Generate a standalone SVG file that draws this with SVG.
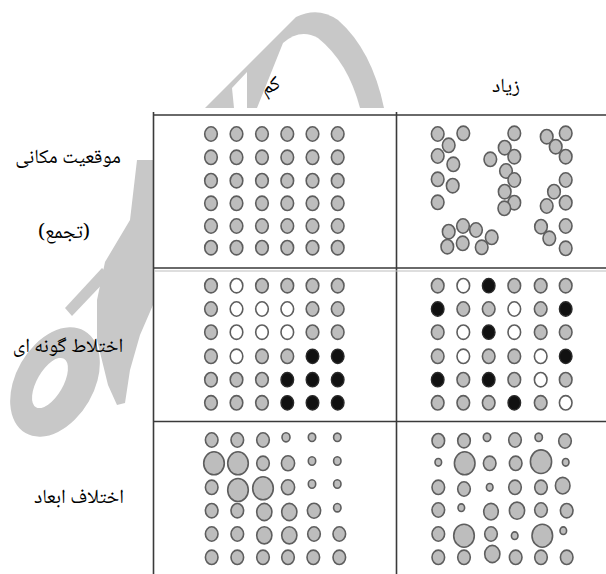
<svg xmlns="http://www.w3.org/2000/svg" width="606" height="574" viewBox="0 0 606 574">
<style>
.wm{fill:#c8c8c8;stroke:none}
.wh{fill:#fff;stroke:none}
.g{fill:#bdbdbd;stroke:#5e5e5e;stroke-width:1.6}
.w{fill:#fff;stroke:#5e5e5e;stroke-width:1.6}
.b{fill:#111;stroke:#2a2a2a;stroke-width:1.4}
.ln{stroke:#3a3a3a;stroke-width:1.6;fill:none}
.ln2{stroke:#bdbdbd;stroke-width:1;fill:none}
.t{font-family:"Noto Naskh Arabic","Noto Sans Arabic","DejaVu Sans",sans-serif;font-size:20px;fill:#000;text-anchor:middle}
</style>
<rect width="606" height="574" fill="#fff"/>
<g id="watermark">
<path class="wm" d="M205 108 L296 17 Q318 6 338 20 Q372 50 384 108 Z"/>
<path class="wh" d="M257 108 L283 43 Q300 28 318 38 Q348 62 360 108 Z"/>
<path class="wh" d="M234 108 L232 88 L247 72 L247 108 Z"/>
<ellipse class="wm" cx="55" cy="382" rx="39" ry="59" transform="rotate(30 55 382)"/>
<ellipse class="wh" cx="50" cy="383" rx="13" ry="28" transform="rotate(30 50 383)"/>
<path class="wm" d="M137 160 L130 220 L105 262 L97 300 L97 340 L108 385 L117 405 L125 403 L130 370 L140 335 L153 305 L153 160 Z"/>
<path class="wm" d="M65 308 L102 268 L110 276 L72 316 Z"/>
</g>
<g id="headers">
<text class="t" x="270" y="92" font-size="22" transform="rotate(-25 270 85)">کم</text>
<text class="t" x="506" y="92" font-size="22">زیاد</text>
</g>
<g id="row-labels">
<text class="t" x="68" y="163">موقعیت مکانی</text>
<text class="t" x="64" y="238">(تجمع)</text>
<text class="t" x="68" y="352">اختلاط گونه ای</text>
<text class="t" x="79" y="503">اختلاف ابعاد</text>
</g>
<g id="table">
<rect x="153.5" y="115" width="453" height="459" fill="#fff"/>
<path class="ln" d="M153.5 115 H606 M153.5 268 H606 M153.5 421.5 H606 M153.5 112 V574 M396.5 112 V574"/>
<path class="ln2" d="M155 271 H606"/>
</g>
<g id="cell-aggregation-low">
<ellipse class="g" cx="211" cy="134" rx="6.3" ry="7.2"/><ellipse class="g" cx="236.5" cy="134" rx="6.3" ry="7.2"/><ellipse class="g" cx="262" cy="134" rx="6.3" ry="7.2"/><ellipse class="g" cx="287.3" cy="134" rx="6.3" ry="7.2"/><ellipse class="g" cx="312.5" cy="134" rx="6.3" ry="7.2"/><ellipse class="g" cx="337.7" cy="134" rx="6.3" ry="7.2"/>
<ellipse class="g" cx="211" cy="157.3" rx="6.3" ry="7.2"/><ellipse class="g" cx="236.5" cy="157.3" rx="6.3" ry="7.2"/><ellipse class="g" cx="262" cy="157.3" rx="6.3" ry="7.2"/><ellipse class="g" cx="287.3" cy="157.3" rx="6.3" ry="7.2"/><ellipse class="g" cx="312.5" cy="157.3" rx="6.3" ry="7.2"/><ellipse class="g" cx="337.7" cy="157.3" rx="6.3" ry="7.2"/>
<ellipse class="g" cx="211" cy="180.7" rx="6.3" ry="7.2"/><ellipse class="g" cx="236.5" cy="180.7" rx="6.3" ry="7.2"/><ellipse class="g" cx="262" cy="180.7" rx="6.3" ry="7.2"/><ellipse class="g" cx="287.3" cy="180.7" rx="6.3" ry="7.2"/><ellipse class="g" cx="312.5" cy="180.7" rx="6.3" ry="7.2"/><ellipse class="g" cx="337.7" cy="180.7" rx="6.3" ry="7.2"/>
<ellipse class="g" cx="211" cy="203.3" rx="6.3" ry="7.2"/><ellipse class="g" cx="236.5" cy="203.3" rx="6.3" ry="7.2"/><ellipse class="g" cx="262" cy="203.3" rx="6.3" ry="7.2"/><ellipse class="g" cx="287.3" cy="203.3" rx="6.3" ry="7.2"/><ellipse class="g" cx="312.5" cy="203.3" rx="6.3" ry="7.2"/><ellipse class="g" cx="337.7" cy="203.3" rx="6.3" ry="7.2"/>
<ellipse class="g" cx="211" cy="226" rx="6.3" ry="7.2"/><ellipse class="g" cx="236.5" cy="226" rx="6.3" ry="7.2"/><ellipse class="g" cx="262" cy="226" rx="6.3" ry="7.2"/><ellipse class="g" cx="287.3" cy="226" rx="6.3" ry="7.2"/><ellipse class="g" cx="312.5" cy="226" rx="6.3" ry="7.2"/><ellipse class="g" cx="337.7" cy="226" rx="6.3" ry="7.2"/>
<ellipse class="g" cx="211" cy="247.7" rx="6.3" ry="7.2"/><ellipse class="g" cx="236.5" cy="247.7" rx="6.3" ry="7.2"/><ellipse class="g" cx="262" cy="247.7" rx="6.3" ry="7.2"/><ellipse class="g" cx="287.3" cy="247.7" rx="6.3" ry="7.2"/><ellipse class="g" cx="312.5" cy="247.7" rx="6.3" ry="7.2"/><ellipse class="g" cx="337.7" cy="247.7" rx="6.3" ry="7.2"/>
</g>
<g id="cell-aggregation-high">
<ellipse class="g" cx="437.7" cy="134" rx="6.3" ry="7.2"/><ellipse class="g" cx="463.3" cy="133.3" rx="6.3" ry="7.2"/><ellipse class="g" cx="448.7" cy="145.3" rx="6.3" ry="7.2"/><ellipse class="g" cx="437.7" cy="156" rx="6.3" ry="7.2"/><ellipse class="g" cx="453.3" cy="164.3" rx="6.3" ry="7.2"/><ellipse class="g" cx="437.7" cy="179.3" rx="6.3" ry="7.2"/><ellipse class="g" cx="452.7" cy="185.7" rx="6.3" ry="7.2"/><ellipse class="g" cx="437.7" cy="202.3" rx="6.3" ry="7.2"/>
<ellipse class="g" cx="514.3" cy="133.3" rx="6.3" ry="7.2"/><ellipse class="g" cx="504.7" cy="147.7" rx="6.3" ry="7.2"/><ellipse class="g" cx="490.3" cy="159.3" rx="6.3" ry="7.2"/><ellipse class="g" cx="514.3" cy="156.7" rx="6.3" ry="7.2"/><ellipse class="g" cx="506" cy="171" rx="6.3" ry="7.2"/><ellipse class="g" cx="514.3" cy="180" rx="6.3" ry="7.2"/><ellipse class="g" cx="504.7" cy="191.7" rx="6.3" ry="7.2"/><ellipse class="g" cx="514.3" cy="202.7" rx="6.3" ry="7.2"/><ellipse class="g" cx="504.3" cy="208.3" rx="6.3" ry="7.2"/>
<ellipse class="g" cx="546.7" cy="136.7" rx="6.3" ry="7.2"/><ellipse class="g" cx="565.7" cy="133.3" rx="6.3" ry="7.2"/><ellipse class="g" cx="555.7" cy="146.7" rx="6.3" ry="7.2"/><ellipse class="g" cx="565.7" cy="156.7" rx="6.3" ry="7.2"/><ellipse class="g" cx="565.7" cy="180" rx="6.3" ry="7.2"/><ellipse class="g" cx="554" cy="191.7" rx="6.3" ry="7.2"/><ellipse class="g" cx="546.7" cy="206" rx="6.3" ry="7.2"/><ellipse class="g" cx="565.7" cy="202.7" rx="6.3" ry="7.2"/>
<ellipse class="g" cx="448.7" cy="231.7" rx="6.3" ry="7.2"/><ellipse class="g" cx="463" cy="226" rx="6.3" ry="7.2"/><ellipse class="g" cx="476" cy="230" rx="6.3" ry="7.2"/><ellipse class="g" cx="491.7" cy="237.3" rx="6.3" ry="7.2"/><ellipse class="g" cx="447.3" cy="246.7" rx="6.3" ry="7.2"/><ellipse class="g" cx="462.7" cy="243.3" rx="6.3" ry="7.2"/><ellipse class="g" cx="481.7" cy="247.3" rx="6.3" ry="7.2"/>
<ellipse class="g" cx="541" cy="226.7" rx="6.3" ry="7.2"/><ellipse class="g" cx="565.7" cy="226" rx="6.3" ry="7.2"/><ellipse class="g" cx="549.3" cy="238.3" rx="6.3" ry="7.2"/><ellipse class="g" cx="565.7" cy="248.3" rx="6.3" ry="7.2"/>
</g>
<g id="cell-mixing-low">
<ellipse class="g" cx="211" cy="285.7" rx="6.3" ry="7.2"/><ellipse class="w" cx="236.5" cy="285.7" rx="6.3" ry="7.2"/><ellipse class="g" cx="262" cy="285.7" rx="6.3" ry="7.2"/><ellipse class="g" cx="287.3" cy="285.7" rx="6.3" ry="7.2"/><ellipse class="g" cx="312.5" cy="285.7" rx="6.3" ry="7.2"/><ellipse class="g" cx="337.7" cy="285.7" rx="6.3" ry="7.2"/>
<ellipse class="g" cx="211" cy="309" rx="6.3" ry="7.2"/><ellipse class="w" cx="236.5" cy="309" rx="6.3" ry="7.2"/><ellipse class="w" cx="262" cy="309" rx="6.3" ry="7.2"/><ellipse class="w" cx="287.3" cy="309" rx="6.3" ry="7.2"/><ellipse class="g" cx="312.5" cy="309" rx="6.3" ry="7.2"/><ellipse class="g" cx="337.7" cy="309" rx="6.3" ry="7.2"/>
<ellipse class="g" cx="211" cy="332.2" rx="6.3" ry="7.2"/><ellipse class="w" cx="236.5" cy="332.2" rx="6.3" ry="7.2"/><ellipse class="w" cx="262" cy="332.2" rx="6.3" ry="7.2"/><ellipse class="w" cx="287.3" cy="332.2" rx="6.3" ry="7.2"/><ellipse class="g" cx="312.5" cy="332.2" rx="6.3" ry="7.2"/><ellipse class="g" cx="337.7" cy="332.2" rx="6.3" ry="7.2"/>
<ellipse class="g" cx="211" cy="356.3" rx="6.3" ry="7.2"/><ellipse class="w" cx="236.5" cy="356.3" rx="6.3" ry="7.2"/><ellipse class="g" cx="262" cy="356.3" rx="6.3" ry="7.2"/><ellipse class="g" cx="287.3" cy="356.3" rx="6.3" ry="7.2"/><ellipse class="b" cx="312.5" cy="356.3" rx="6.3" ry="7.2"/><ellipse class="b" cx="337.7" cy="356.3" rx="6.3" ry="7.2"/>
<ellipse class="g" cx="211" cy="379.7" rx="6.3" ry="7.2"/><ellipse class="g" cx="236.5" cy="379.7" rx="6.3" ry="7.2"/><ellipse class="g" cx="262" cy="379.7" rx="6.3" ry="7.2"/><ellipse class="b" cx="287.3" cy="379.7" rx="6.3" ry="7.2"/><ellipse class="b" cx="312.5" cy="379.7" rx="6.3" ry="7.2"/><ellipse class="b" cx="337.7" cy="379.7" rx="6.3" ry="7.2"/>
<ellipse class="g" cx="211" cy="402.8" rx="6.3" ry="7.2"/><ellipse class="g" cx="236.5" cy="402.8" rx="6.3" ry="7.2"/><ellipse class="g" cx="262" cy="402.8" rx="6.3" ry="7.2"/><ellipse class="b" cx="287.3" cy="402.8" rx="6.3" ry="7.2"/><ellipse class="b" cx="312.5" cy="402.8" rx="6.3" ry="7.2"/><ellipse class="b" cx="337.7" cy="402.8" rx="6.3" ry="7.2"/>
</g>
<g id="cell-mixing-high">
<ellipse class="g" cx="437.7" cy="285.7" rx="6.3" ry="7.2"/><ellipse class="w" cx="463.3" cy="285.7" rx="6.3" ry="7.2"/><ellipse class="b" cx="488.7" cy="285.7" rx="6.3" ry="7.2"/><ellipse class="g" cx="514.3" cy="285.7" rx="6.3" ry="7.2"/><ellipse class="g" cx="540.7" cy="285.7" rx="6.3" ry="7.2"/><ellipse class="g" cx="565.7" cy="285.7" rx="6.3" ry="7.2"/>
<ellipse class="b" cx="437.7" cy="309" rx="6.3" ry="7.2"/><ellipse class="g" cx="463.3" cy="309" rx="6.3" ry="7.2"/><ellipse class="g" cx="488.7" cy="309" rx="6.3" ry="7.2"/><ellipse class="w" cx="514.3" cy="309" rx="6.3" ry="7.2"/><ellipse class="g" cx="540.7" cy="309" rx="6.3" ry="7.2"/><ellipse class="b" cx="565.7" cy="309" rx="6.3" ry="7.2"/>
<ellipse class="g" cx="437.7" cy="332.2" rx="6.3" ry="7.2"/><ellipse class="w" cx="463.3" cy="332.2" rx="6.3" ry="7.2"/><ellipse class="b" cx="488.7" cy="332.2" rx="6.3" ry="7.2"/><ellipse class="w" cx="514.3" cy="332.2" rx="6.3" ry="7.2"/><ellipse class="g" cx="540.7" cy="332.2" rx="6.3" ry="7.2"/><ellipse class="g" cx="565.7" cy="332.2" rx="6.3" ry="7.2"/>
<ellipse class="g" cx="437.7" cy="356.3" rx="6.3" ry="7.2"/><ellipse class="w" cx="463.3" cy="356.3" rx="6.3" ry="7.2"/><ellipse class="g" cx="488.7" cy="356.3" rx="6.3" ry="7.2"/><ellipse class="g" cx="514.3" cy="356.3" rx="6.3" ry="7.2"/><ellipse class="w" cx="540.7" cy="356.3" rx="6.3" ry="7.2"/><ellipse class="b" cx="565.7" cy="356.3" rx="6.3" ry="7.2"/>
<ellipse class="b" cx="437.7" cy="379.7" rx="6.3" ry="7.2"/><ellipse class="g" cx="463.3" cy="379.7" rx="6.3" ry="7.2"/><ellipse class="b" cx="488.7" cy="379.7" rx="6.3" ry="7.2"/><ellipse class="g" cx="514.3" cy="379.7" rx="6.3" ry="7.2"/><ellipse class="w" cx="540.7" cy="379.7" rx="6.3" ry="7.2"/><ellipse class="g" cx="565.7" cy="379.7" rx="6.3" ry="7.2"/>
<ellipse class="g" cx="437.7" cy="402.8" rx="6.3" ry="7.2"/><ellipse class="g" cx="463.3" cy="402.8" rx="6.3" ry="7.2"/><ellipse class="g" cx="488.7" cy="402.8" rx="6.3" ry="7.2"/><ellipse class="b" cx="514.3" cy="402.8" rx="6.3" ry="7.2"/><ellipse class="g" cx="540.7" cy="402.8" rx="6.3" ry="7.2"/><ellipse class="w" cx="565.7" cy="402.8" rx="6.3" ry="7.2"/>
</g>
<g id="cell-size-low">
<ellipse class="g" cx="211.7" cy="440" rx="6.3" ry="7.2"/><ellipse class="g" cx="237.3" cy="440" rx="6.3" ry="7.2"/><ellipse class="g" cx="263" cy="440" rx="6.3" ry="7.2"/><ellipse class="g" cx="286" cy="437.3" rx="4" ry="4.6"/><ellipse class="g" cx="312" cy="437.3" rx="3.7" ry="4.2"/><ellipse class="g" cx="337.3" cy="437.3" rx="3.7" ry="4.2"/>
<ellipse class="g" cx="214" cy="463.3" rx="10.3" ry="11.5"/><ellipse class="g" cx="238" cy="463.3" rx="10.3" ry="11.5"/><ellipse class="g" cx="263" cy="463.3" rx="6.3" ry="7.2"/><ellipse class="g" cx="288" cy="463.3" rx="6.6" ry="7.5"/><ellipse class="g" cx="312" cy="461" rx="3.7" ry="4.2"/><ellipse class="g" cx="337.3" cy="461" rx="3.7" ry="4.2"/>
<ellipse class="g" cx="211.7" cy="487.3" rx="6.3" ry="7.2"/><ellipse class="g" cx="238" cy="490" rx="10.3" ry="11.5"/><ellipse class="g" cx="263" cy="488.3" rx="10.3" ry="11.5"/><ellipse class="g" cx="288" cy="487.3" rx="6.6" ry="7.5"/><ellipse class="g" cx="312" cy="484" rx="3.7" ry="4.2"/><ellipse class="g" cx="337.3" cy="484" rx="3.7" ry="4.2"/>
<ellipse class="g" cx="211.7" cy="510.7" rx="6.3" ry="7.2"/><ellipse class="g" cx="237.3" cy="510.7" rx="6.3" ry="7.2"/><ellipse class="g" cx="264.3" cy="512" rx="7.6" ry="8.6"/><ellipse class="g" cx="289.3" cy="512" rx="7.6" ry="8.6"/><ellipse class="g" cx="314" cy="510.7" rx="6.6" ry="7.5"/><ellipse class="g" cx="337.3" cy="507.7" rx="3.7" ry="4.2"/>
<ellipse class="g" cx="211.7" cy="534" rx="6.3" ry="7.2"/><ellipse class="g" cx="237.3" cy="534" rx="6.3" ry="7.2"/><ellipse class="g" cx="264.3" cy="535.3" rx="7.6" ry="8.6"/><ellipse class="g" cx="289.3" cy="535.3" rx="7.6" ry="8.6"/><ellipse class="g" cx="314" cy="534" rx="6.3" ry="7.2"/><ellipse class="g" cx="339.3" cy="534" rx="6.3" ry="7.2"/>
<ellipse class="g" cx="211.7" cy="557.3" rx="6.3" ry="7.2"/><ellipse class="g" cx="237.3" cy="557.3" rx="6.3" ry="7.2"/><ellipse class="g" cx="263" cy="557.3" rx="6.3" ry="7.2"/><ellipse class="g" cx="288" cy="557.3" rx="6.3" ry="7.2"/><ellipse class="g" cx="313.3" cy="557.3" rx="6.3" ry="7.2"/><ellipse class="g" cx="339.3" cy="557.3" rx="6.3" ry="7.2"/>
</g>
<g id="cell-size-high">
<ellipse class="g" cx="438.3" cy="440.7" rx="6.3" ry="7.2"/><ellipse class="g" cx="464" cy="440.7" rx="6.3" ry="7.2"/><ellipse class="g" cx="487" cy="437.3" rx="3.7" ry="4.2"/><ellipse class="g" cx="515" cy="440" rx="6.3" ry="7.2"/><ellipse class="g" cx="538.7" cy="437.3" rx="3.7" ry="4.2"/><ellipse class="g" cx="565" cy="441" rx="6.3" ry="7.2"/>
<ellipse class="g" cx="438.3" cy="462.3" rx="3.3" ry="3.8"/><ellipse class="g" cx="464.7" cy="463.3" rx="10.3" ry="11.5"/><ellipse class="g" cx="489.7" cy="463.3" rx="6.3" ry="7.2"/><ellipse class="g" cx="515.7" cy="463.3" rx="6.3" ry="7.2"/><ellipse class="g" cx="541" cy="461.7" rx="10.6" ry="11.8"/><ellipse class="g" cx="565.7" cy="462.3" rx="3.3" ry="3.8"/>
<ellipse class="g" cx="438.3" cy="487.3" rx="6.3" ry="7.2"/><ellipse class="g" cx="464" cy="489" rx="6.3" ry="7.2"/><ellipse class="g" cx="489.7" cy="487.3" rx="3.3" ry="3.8"/><ellipse class="g" cx="515" cy="487.3" rx="6.3" ry="7.2"/><ellipse class="g" cx="541" cy="487.3" rx="6.3" ry="7.2"/><ellipse class="g" cx="562.7" cy="485.7" rx="7.3" ry="8.3"/>
<ellipse class="g" cx="438.3" cy="510" rx="6.3" ry="7.2"/><ellipse class="g" cx="461.3" cy="507.7" rx="3.3" ry="3.8"/><ellipse class="g" cx="491" cy="511.7" rx="7.3" ry="8.3"/><ellipse class="g" cx="517" cy="510.7" rx="7.6" ry="8.6"/><ellipse class="g" cx="541" cy="510" rx="6.3" ry="7.2"/><ellipse class="g" cx="566.7" cy="510.7" rx="6.3" ry="7.2"/>
<ellipse class="g" cx="438.3" cy="534" rx="6.3" ry="7.2"/><ellipse class="g" cx="464" cy="535.7" rx="10.3" ry="11.5"/><ellipse class="g" cx="491" cy="534" rx="6.3" ry="7.2"/><ellipse class="g" cx="514.7" cy="535.7" rx="3.3" ry="3.8"/><ellipse class="g" cx="542.3" cy="535.7" rx="10.3" ry="11.5"/><ellipse class="g" cx="563.3" cy="530.7" rx="3.3" ry="3.8"/>
<ellipse class="g" cx="438.3" cy="557.3" rx="6.3" ry="7.2"/><ellipse class="g" cx="464" cy="557.3" rx="6.3" ry="7.2"/><ellipse class="g" cx="492.3" cy="554" rx="7.6" ry="8.6"/><ellipse class="g" cx="515.7" cy="557.3" rx="6.3" ry="7.2"/><ellipse class="g" cx="541" cy="557.3" rx="6.3" ry="7.2"/><ellipse class="g" cx="566.7" cy="557.3" rx="6.3" ry="7.2"/>
</g>
</svg>
